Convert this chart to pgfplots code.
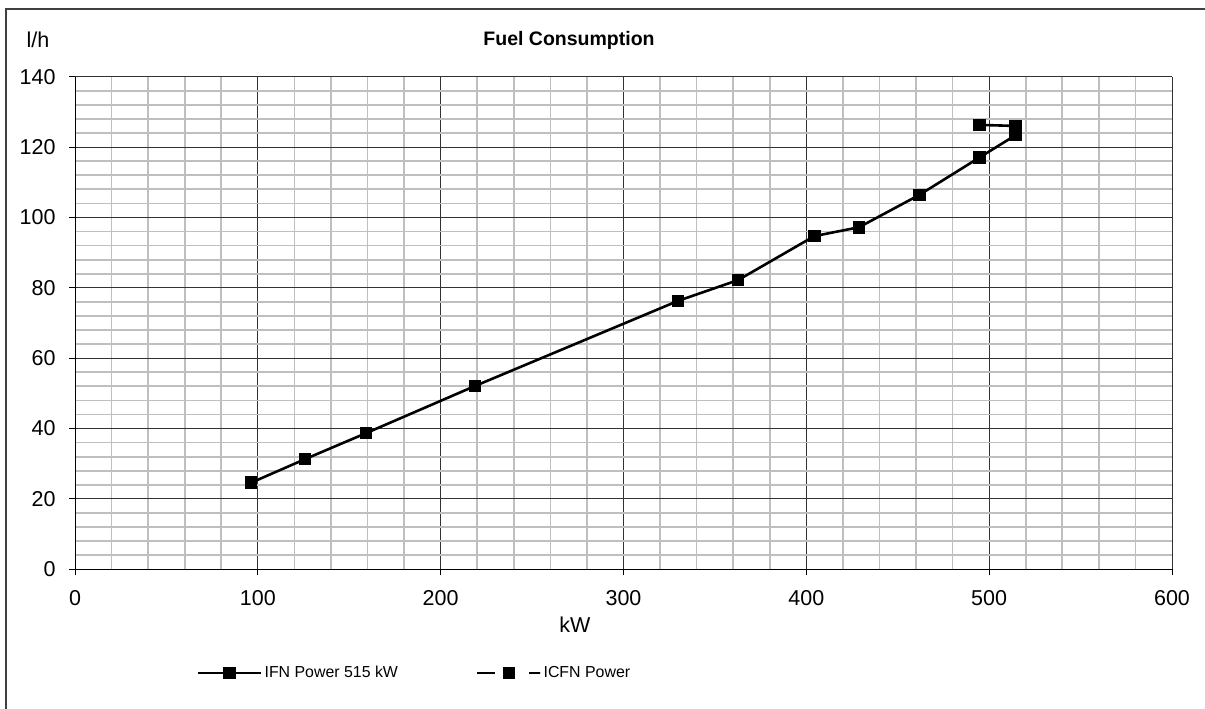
\documentclass[border=0pt]{standalone}
\usepackage{fontspec}
\setmainfont{Liberation Sans}
\usepackage{pgfplots}
\pgfplotsset{compat=1.18}
\begin{document}
\begin{tikzpicture}[x=1bp,y=1bp]
\useasboundingbox (0,0) rectangle (1205,709);
\draw[line width=1.5bp, black!75] (6,0) -- (6,700) -- (1205,700);
\begin{axis}[
  at={(75bp,139.7bp)}, anchor=south west,
  scale only axis, width=1097bp, height=492.6bp,
  xmin=0, xmax=600, ymin=0, ymax=140,
  xtick={0,100,...,600}, ytick={0,20,...,140},
  minor x tick num=4, minor y tick num=4,
  axis lines=left, axis line style={-, black, line width=1bp},
  tick align=outside, major tick length=6bp, minor tick length=0bp,
  tick style={black, line width=1bp},
  grid=both,
  major grid style={black!80, line width=0.9bp},
  minor grid style={black!25, line width=1.7bp},
  /pgf/number format/assume math mode=true,
  ticklabel style={font=\fontsize{21.5bp}{25bp}\selectfont},
  xticklabel style={anchor=north, yshift=-12bp},
  yticklabel style={anchor=east, xshift=-10bp},
  legend columns=2,
  legend style={draw=none, fill=none, inner sep=0pt, outer sep=0pt,
    at={(0.1112,-0.2105)}, anchor=west,
    font=\fontsize{15.9bp}{19bp}\selectfont,
    /tikz/every even column/.append style={column sep=76bp}},
  legend image code/.code={\draw[mark repeat=2,mark phase=2,#1] plot coordinates {(0bp,0bp) (31.5bp,0bp) (63bp,0bp)};},
]
\addplot[black, line width=2.6bp, mark=square*, mark size=5bp, mark options={solid}] coordinates {
(96.3,24.6) (125.8,31.3) (159.2,38.7) (218.8,52.1) (329.9,76.3) (362.7,82.2)
(404.4,94.7) (428.8,97.2) (461.8,106.4) (494.6,117.0) (514.5,123.4)
(514.5,126.0) (494.6,126.3)
};
\addlegendentry{IFN Power 515 kW}
\addlegendimage{black, line width=2.6bp, dash pattern=on 18bp off 9bp on 11bp off 14bp on 11bp off 0bp, mark=square*, mark size=4.5bp, mark options={solid}}
\addlegendentry{ICFN Power}
\end{axis}
\node[font=\fontsize{19.5bp}{23bp}\selectfont\bfseries] at (569,669) {Fuel Consumption};
\node[font=\fontsize{21.5bp}{25bp}\selectfont] at (38,669) {l/h};
\node[font=\fontsize{21.5bp}{25bp}\selectfont] at (575,84) {kW};
\end{tikzpicture}
\end{document}
